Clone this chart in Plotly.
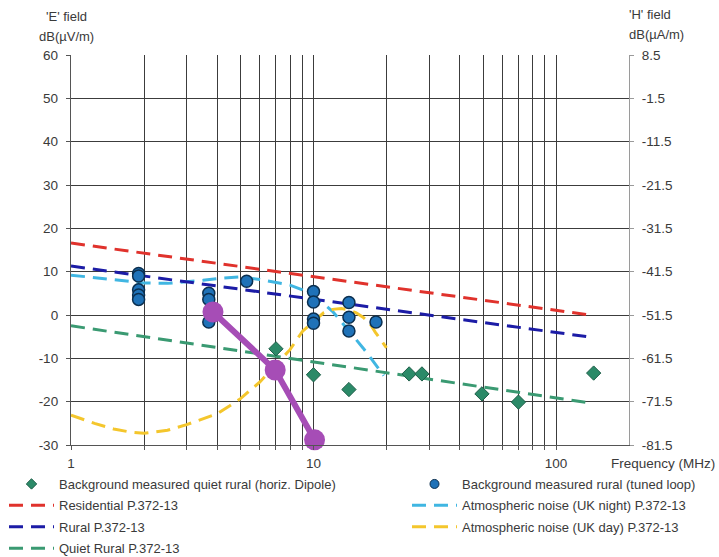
import plotly.graph_objects as go

# ---------------- data ----------------
dipole_freq = [7.0, 10.0, 14.0, 24.8, 28.0, 49.5, 70.0, 143.0]
dipole_e = [-7.8, -13.8, -17.2, -13.6, -13.6, -18.2, -20.1, -13.4]

loop_freq = [1.9, 1.9, 1.9, 1.9, 1.9, 3.7, 3.7, 3.7, 5.3,
             10.0, 10.0, 10.0, 10.0, 14.0, 14.0, 14.0, 18.1]
loop_e = [9.6, 9.0, 5.8, 4.6, 3.6, 5.0, 3.6, -1.6, 7.8,
          5.4, 3.0, -0.9, -1.9, 2.9, -0.5, -3.7, -1.6]

purple_freq = [3.85, 6.95, 10.1]
purple_e = [0.7, -12.7, -28.8]

itu_freq = [1.0, 138.0]
residential_e = [16.6, 0.0]
rural_e = [11.3, -5.1]
quiet_rural_e = [-2.5, -20.3]

night_freq = [1, 1.5, 2, 2.5, 3, 3.5, 4, 5, 6, 7, 8, 9, 10, 11, 12, 13, 14,
              15, 16, 17, 18, 19.5]
night_e = [9.2, 8.1, 7.4, 7.3, 7.6, 8.0, 8.4, 8.8, 8.2, 7.5, 6.9, 5.8, 4.3,
           2.6, 0.8, -1.5, -3.6, -5.6, -7.6, -9.5, -11.5, -14.0]

day_freq = [1, 1.25, 1.5, 1.75, 2, 2.5, 3, 3.5, 4, 4.5, 5, 6, 7, 8, 9, 10,
            11, 12, 13, 14, 15, 16, 17, 18, 19, 20]
day_e = [-23.1, -25.0, -26.3, -27.0, -27.3, -26.6, -25.3, -24.0, -22.8,
         -21.0, -19.3, -15.5, -11.5, -8.0, -3.8, -1.5, 0.5, 1.3, 1.5, 1.2,
         0.5, -0.5, -1.8, -4.0, -5.8, -7.6]

x_grid_vals = [1, 2, 3, 4, 5, 6, 7, 8, 9, 10, 20, 30, 40, 50, 60, 70, 80, 90, 100]
x_grid_text = ["1", "", "", "", "", "", "", "", "", "10", "", "", "", "", "",
               "", "", "", "100"]
e_ticks = [-30, -20, -10, 0, 10, 20, 30, 40, 50, 60]
e_tick_text = ["-30", "-20", "-10", "0", "10", "20", "30", "40", "50", "60"]
h_ticks = [-81.5, -71.5, -61.5, -51.5, -41.5, -31.5, -21.5, -11.5, -1.5, 8.5]
h_tick_text = ["-81.5", "-71.5", "-61.5", "-51.5", "-41.5", "-31.5", "-21.5",
               "-11.5", "-1.5", "8.5"]

# ---------------- figure ----------------
FONT = "Liberation Sans, Arial, sans-serif"
TXT = "#3a3a3a"
DASH = "14px,8px"
C_RES, C_NIGHT, C_RUR, C_DAY, C_QR = "#e0322c", "#40b6e2", "#1c1ca6", "#f4c62c", "#3a9a72"
C_DIP, C_LOOP, C_PUR = "#2b8a68", "#1f72b8", "#a64db6"

fig = go.Figure()

def dash_line(x, y, color):
    fig.add_trace(go.Scatter(
        x=x, y=y, mode="lines", showlegend=False,
        line=dict(color=color, width=3, dash=DASH), hoverinfo="skip"))

dash_line(itu_freq, residential_e, C_RES)
dash_line(night_freq, night_e, C_NIGHT)
dash_line(itu_freq, rural_e, C_RUR)
dash_line(day_freq, day_e, C_DAY)
dash_line(itu_freq, quiet_rural_e, C_QR)

fig.add_trace(go.Scatter(
    x=dipole_freq, y=dipole_e, mode="markers", showlegend=False,
    marker=dict(symbol="diamond", size=11, color=C_DIP,
                line=dict(color="#1e5e48", width=1))))

fig.add_trace(go.Scatter(
    x=loop_freq, y=loop_e, mode="markers", showlegend=False,
    marker=dict(symbol="circle", size=12, color=C_LOOP,
                line=dict(color="#0b2f4f", width=1.5))))

fig.add_trace(go.Scatter(
    x=purple_freq, y=purple_e, mode="lines+markers", showlegend=False,
    line=dict(color=C_PUR, width=6),
    marker=dict(size=21, color=C_PUR), cliponaxis=False))

# legend entries (keys only)
def legend_marker(name, symbol, size, color, edge, legend):
    fig.add_trace(go.Scatter(
        x=[None], y=[None], mode="markers", name=name, legend=legend,
        legendgroup=name,
        marker=dict(symbol=symbol, size=size, color=color,
                    line=dict(color=edge, width=1))))

def legend_line(name, color, legend):
    fig.add_trace(go.Scatter(
        x=[None], y=[None], mode="lines", name=name, legend=legend,
        legendgroup=name, line=dict(color=color, width=3, dash=DASH)))

legend_marker("Background measured quiet rural (horiz. Dipole)", "diamond", 8,
              C_DIP, "#1e5e48", "legend")
legend_line("Residential P.372-13", C_RES, "legend")
legend_line("Rural P.372-13", C_RUR, "legend")
legend_line("Quiet Rural P.372-13", C_QR, "legend")
legend_marker("Background measured rural (tuned loop)", "circle", 9,
              C_LOOP, "#0b2f4f", "legend2")
legend_line("Atmospheric noise (UK night) P.372-13", C_NIGHT, "legend2")
legend_line("Atmospheric noise (UK day) P.372-13", C_DAY, "legend2")

# invisible trace to activate the right axis
fig.add_trace(go.Scatter(x=[1], y=[0], yaxis="y2", mode="markers",
                         marker=dict(opacity=0), showlegend=False,
                         hoverinfo="skip"))

PLOT_TOP, PLOT_BOT, PLOT_L, PLOT_R = 55, 445, 71, 629

def px(xpix):
    return (xpix - PLOT_L) / (PLOT_R - PLOT_L)

def py(ypix):
    return (PLOT_BOT - ypix) / (PLOT_BOT - PLOT_TOP)

leg_common = dict(
    orientation="v", xref="paper", yref="paper",
    xanchor="left", yanchor="top", itemwidth=45,
    font=dict(family=FONT, size=13, color=TXT),
    itemsizing="trace", traceorder="grouped", tracegroupgap=1.5,
    bgcolor="rgba(0,0,0,0)", borderwidth=0)

fig.update_layout(
    width=719, height=557,
    margin=dict(l=PLOT_L, r=719 - PLOT_R, t=PLOT_TOP, b=557 - PLOT_BOT,
                autoexpand=False),
    paper_bgcolor="white", plot_bgcolor="white",
    font=dict(family=FONT, size=13, color=TXT),
    xaxis=dict(
        type="log", range=[0, 2.30103],
        tickvals=x_grid_vals, ticktext=x_grid_text,
        showgrid=True, gridcolor="#3c3c3c", gridwidth=1.3,
        showline=True, linecolor="#555555", linewidth=1.3,
        ticks="outside", ticklen=4, tickcolor="#555555",
        ticklabelstandoff=2, zeroline=False,
        tickfont=dict(family=FONT, size=13.5, color=TXT)),
    yaxis=dict(
        range=[-30, 60], tickvals=e_ticks, ticktext=e_tick_text,
        showgrid=True, gridcolor="#3c3c3c", gridwidth=1.3,
        showline=True, linecolor="#555555", linewidth=1.3,
        ticks="outside", ticklen=4, tickcolor="#555555",
        ticklabelstandoff=5, zeroline=False,
        tickfont=dict(family=FONT, size=13.5, color=TXT)),
    yaxis2=dict(
        range=[-81.5, 8.5], tickvals=h_ticks, ticktext=h_tick_text,
        overlaying="y", side="right", showgrid=False, zeroline=False,
        showline=True, linecolor="#9a9a9a", linewidth=1.3,
        ticks="outside", ticklen=4, tickcolor="#9a9a9a",
        ticklabelstandoff=5,
        tickfont=dict(family=FONT, size=13.5, color=TXT)),
    legend=dict(x=px(4), y=py(469), **leg_common),
    legend2=dict(x=px(407), y=py(469), **leg_common),
    annotations=[
        dict(text="'E' field", xref="paper", yref="paper",
             x=px(66), y=py(17), xanchor="center", yanchor="middle",
             showarrow=False, font=dict(family=FONT, size=13, color=TXT)),
        dict(text="dB(µV/m)", xref="paper", yref="paper",
             x=px(66), y=py(37), xanchor="center", yanchor="middle",
             showarrow=False, font=dict(family=FONT, size=13, color=TXT)),
        dict(text="'H' field", xref="paper", yref="paper",
             x=px(650), y=py(15), xanchor="center", yanchor="middle",
             showarrow=False, font=dict(family=FONT, size=13, color=TXT)),
        dict(text="dB(µA/m)", xref="paper", yref="paper",
             x=px(656), y=py(35), xanchor="center", yanchor="middle",
             showarrow=False, font=dict(family=FONT, size=13, color=TXT)),
        dict(text="Frequency (MHz)", xref="paper", yref="paper",
             x=px(717), y=py(463), xanchor="right", yanchor="middle",
             showarrow=False, font=dict(family=FONT, size=13.5, color=TXT)),
    ],
)

fig.write_html("out.html", config={"displayModeBar": False},
               post_script="document.body.style.margin='0';")
